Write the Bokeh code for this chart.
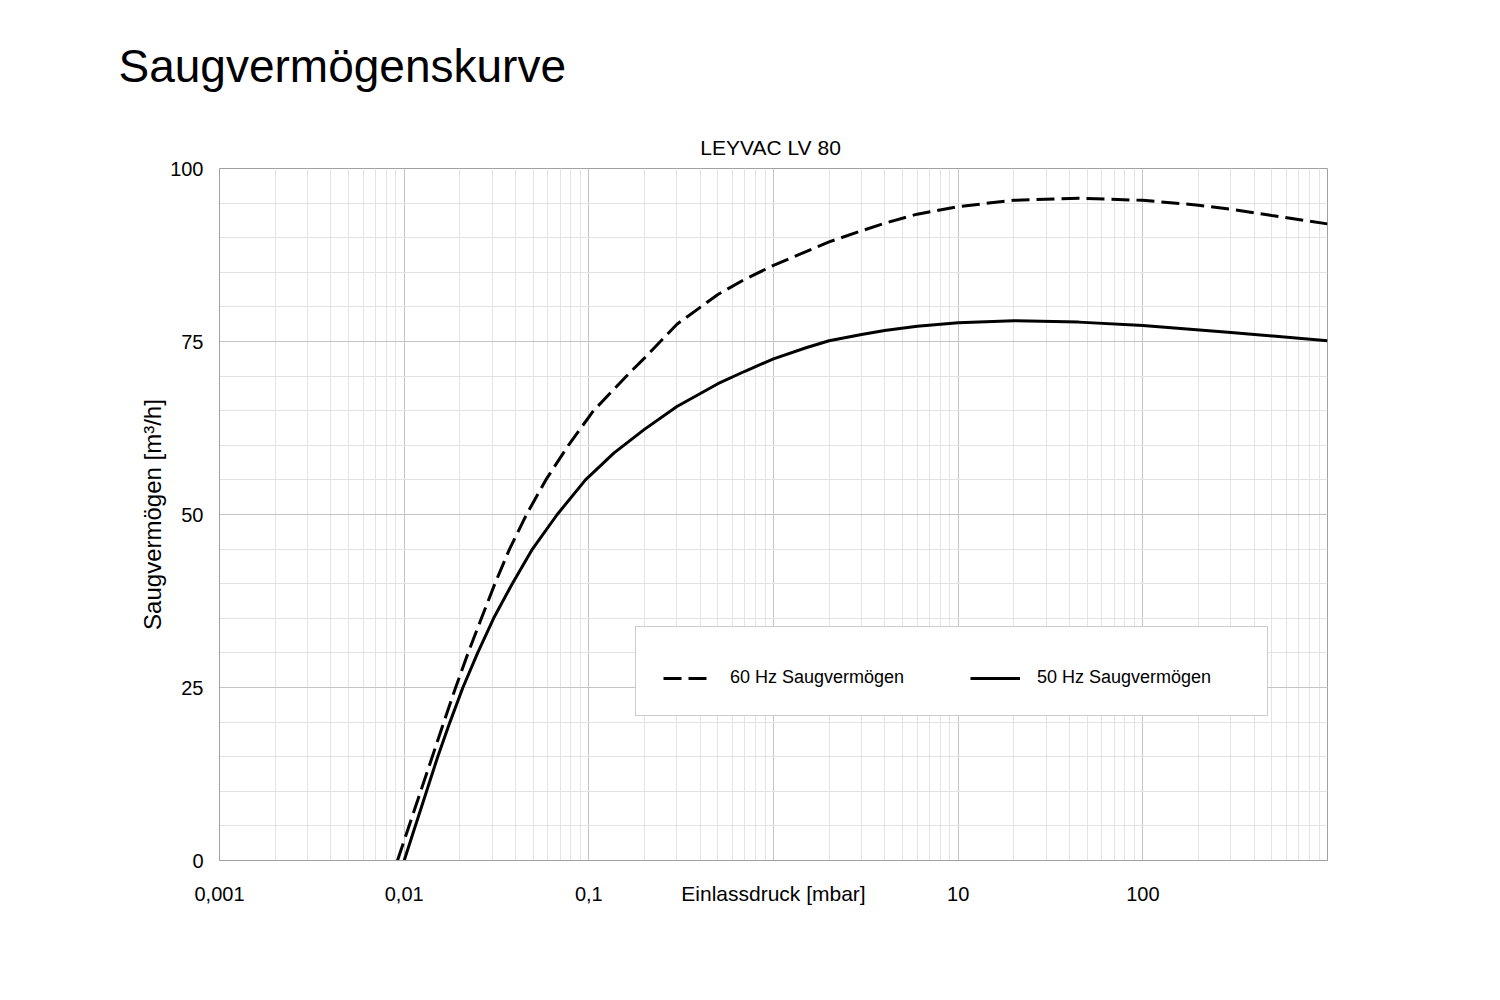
from bokeh.plotting import figure
from bokeh.models import FixedTicker, Legend, LegendItem, Title, Range1d
from bokeh.embed import file_html
from bokeh.resources import INLINE

# --- data ---
pressure_60 = [0.0092, 0.0142, 0.0164, 0.0190, 0.0222, 0.0262, 0.0310, 0.0372, 0.0460,
               0.0585, 0.0775, 0.106, 0.168, 0.2, 0.3, 0.5, 0.7, 1.0, 1.5, 2.0, 3.0,
               4.0, 6.0, 10.0, 20.0, 45.0, 100.0, 200.0, 300.0, 500.0, 1000.0]
speed_60 = [0.0, 15.0, 20.0, 25.0, 30.0, 35.0, 40.0, 45.0, 50.0,
            55.0, 60.0, 65.0, 70.6, 72.6, 77.5, 81.8, 84.0, 86.0, 88.0, 89.4, 91.0,
            92.1, 93.4, 94.5, 95.4, 95.7, 95.4, 94.7, 94.1, 93.2, 92.0]

pressure_50 = [0.0100, 0.0152, 0.0177, 0.0208, 0.0250, 0.0305, 0.0385, 0.0495, 0.0674,
               0.0959, 0.137, 0.2, 0.3, 0.5, 0.7, 1.0, 1.5, 2.0, 3.0, 4.0, 6.0, 10.0,
               20.0, 45.0, 100.0, 300.0, 1000.0]
speed_50 = [0.0, 15.0, 20.0, 25.0, 30.0, 35.0, 40.0, 45.0, 50.0,
            55.0, 58.9, 62.3, 65.6, 68.9, 70.7, 72.5, 74.1, 75.1, 76.0, 76.6, 77.2, 77.7,
            78.0, 77.8, 77.3, 76.3, 75.1]

series_labels = ["60 Hz Saugvermögen", "50 Hz Saugvermögen"]
x_ticks = [0.001, 0.01, 0.1, 1.0, 10.0, 100.0, 1000.0]
x_tick_labels = ["0,001", "0,01", "0,1", "", "10", "100", ""]
y_ticks = [0, 25, 50, 75, 100]

main_title = "Saugvermögenskurve"
sub_title = "LEYVAC  LV 80"
x_label = "Einlassdruck [mbar]"
y_label = "Saugvermögen [m³/h]"

FONT = "Liberation Sans"
W, H = 1480, 960
FL, FR, FT, FB = 219, 1327, 168, 860  # frame edges in canvas px

p = figure(width=W, height=H, x_axis_type="log",
           x_range=Range1d(0.001, 1000), y_range=Range1d(0, 100),
           output_backend="svg", toolbar_location=None,
           min_border_left=FL, min_border_right=W - FR,
           min_border_top=FT, min_border_bottom=H - FB,
           background_fill_color="white", border_fill_color="white")

# titles: p.title is outermost, the added Title sits next to the frame
p.title.text = main_title
p.title.align = "left"
p.title.offset = -(FL - 118)
p.title.text_font = FONT
p.title.text_font_size = "46px"
p.title.text_font_style = "normal"
p.title.text_color = "black"
p.title.standoff = 65

sub = Title(text=sub_title, align="center", text_font=FONT, text_font_size="21px",
            text_font_style="normal", text_color="black", standoff=19)
p.add_layout(sub, "above")

# tickers / grids
x_minor = [m * 10.0 ** e for e in range(-3, 3) for m in range(2, 10)]
p.xaxis.ticker = FixedTicker(ticks=x_ticks, minor_ticks=x_minor)
p.yaxis.ticker = FixedTicker(ticks=y_ticks, minor_ticks=list(range(0, 101, 5)))
p.xaxis.major_label_overrides = dict(zip(x_ticks, x_tick_labels))

for g in (p.xgrid, p.ygrid):
    g.grid_line_color = "#c4c4c4"
    g.grid_line_width = 1
    g.minor_grid_line_color = "#e3e3e3"
    g.minor_grid_line_width = 1

for ax in (p.xaxis, p.yaxis):
    ax.axis_line_color = "#a0a0a0"
    ax.major_tick_line_color = None
    ax.minor_tick_line_color = None
    ax.major_label_text_font = FONT
    ax.major_label_text_font_size = "20px"
    ax.major_label_text_color = "black"
    ax.axis_label_text_font = FONT
    ax.axis_label_text_font_style = "normal"
    ax.axis_label_text_color = "black"

p.xaxis.axis_label = x_label
p.xaxis.axis_label_text_font_size = "21px"
p.xaxis.major_label_standoff = 20
p.xaxis.axis_label_standoff = -22

p.yaxis.axis_label = y_label
p.yaxis.axis_label_text_font_size = "24px"
p.yaxis.major_label_standoff = 10
p.yaxis.axis_label_standoff = 1

p.outline_line_color = "#a0a0a0"
p.outline_line_width = 1

# curves
r60 = p.line(pressure_60, speed_60, line_color="black", line_width=3, line_dash="18 7")
r50 = p.line(pressure_50, speed_50, line_color="black", line_width=3)

legend = Legend(items=[LegendItem(label=series_labels[0], renderers=[r60]),
                       LegendItem(label=series_labels[1], renderers=[r50])],
                orientation="horizontal", location=(416, 144),
                padding=27, spacing=37, margin=0,
                glyph_width=50, glyph_height=20, label_standoff=17, label_width=203,
                label_text_font=FONT, label_text_font_size="18px", label_text_color="black",
                title=" ", title_text_font_size="10px", title_standoff=2,
                border_line_color="#999999", border_line_width=1,
                background_fill_color="white", background_fill_alpha=1.0)
p.add_layout(legend)

open("out.html", "w").write(file_html(p, INLINE))
